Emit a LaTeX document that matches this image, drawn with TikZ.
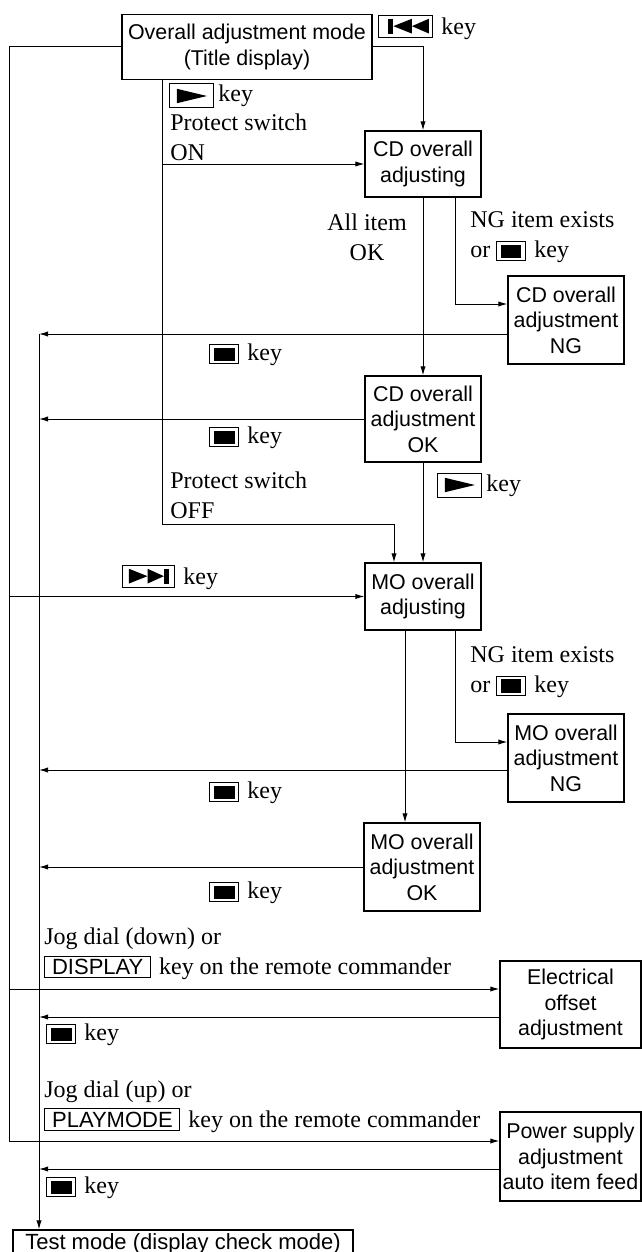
\documentclass[tikz,border=0pt]{standalone}
\usepackage{fontspec}
\setmainfont{Liberation Serif}
\setsansfont{Liberation Sans}
\usetikzlibrary{calc,arrows.meta}

\tikzset{
  box/.style={draw, line width=0.6pt, align=center, inner sep=1pt,
    font=\sffamily\fontsize{10.7}{12.8}\selectfont},
  arr/.style={line width=0.5pt, -{Latex[length=4.5pt,width=2.6pt]}},
  lbl/.style={inner sep=0pt, anchor=west, align=left,
    font=\fontsize{12}{15}\selectfont},
}

% key buttons
\newcommand{\prevkey}{\tikz[x=1pt,y=1pt,baseline=1.5pt]{\draw[line width=0.5pt] (0,0) rectangle (27,11);
  \fill (4.5,1.8) rectangle (7.2,9.2); \fill (7.2,5.5) -- (16.5,9.2) -- (16.5,1.8) -- cycle;
  \fill (16.5,5.5) -- (25,9.2) -- (25,1.8) -- cycle;}}
\newcommand{\nextkey}{\tikz[x=1pt,y=1pt,baseline=1.5pt]{\draw[line width=0.5pt] (0,0) rectangle (26,11);
  \fill (3,1.8) -- (3,9.2) -- (12.3,5.5) -- cycle; \fill (12.3,1.8) -- (12.3,9.2) -- (20.5,5.5) -- cycle;
  \fill (20.5,1.8) rectangle (23,9.2);}}
\newcommand{\playkey}{\tikz[x=1pt,y=1pt,baseline=3pt]{\draw[line width=0.5pt] (0,0) rectangle (22,12);
  \fill (3.5,2.4) -- (3.5,9.6) -- (18.5,6) -- cycle;}}
\newcommand{\stopkey}{\tikz[x=1pt,y=1pt,baseline=1.5pt]{\draw[line width=0.5pt] (0,0) rectangle (14.5,9.5);
  \fill (2.2,1.4) rectangle (12.3,8.1);}}
\newcommand{\txtkey}[1]{\tikz[baseline=(tk.base)]\node[draw,line width=0.5pt,inner xsep=3.6pt,inner ysep=1.5pt,
  font=\sffamily\fontsize{11}{13}\selectfont] (tk) {#1};}

\begin{document}
\begin{tikzpicture}[x=0.5pt,y=-0.5pt]
    \useasboundingbox (0,0) rectangle (642,1252);
    % boxes
    \node[box, minimum width=125pt, minimum height=32.5pt] (title) at (247,47) {Overall adjustment mode\\(Title display)};
    \node[box, minimum width=58pt, minimum height=33pt] (cdadj) at (423,164) {CD overall\\adjusting};
    \node[box, minimum width=58pt, minimum height=44pt] (cdng) at (566,320) {CD overall\\adjustment\\NG};
    \node[box, minimum width=58pt, minimum height=43pt] (cdok) at (423,419) {CD overall\\adjustment\\OK};
    \node[box, minimum width=58pt, minimum height=33.5pt] (moadj) at (423,596.5) {MO overall\\adjusting};
    \node[box, minimum width=58pt, minimum height=44pt] (mong) at (566,758) {MO overall\\adjustment\\NG};
    \node[box, minimum width=58pt, minimum height=44pt] (mook) at (422,867) {MO overall\\adjustment\\OK};
    \node[box, minimum width=70.5pt, minimum height=43.5pt] (elec) at (570.5,1004.5) {Electrical\\offset\\adjustment};
    \node[box, minimum width=70.5pt, minimum height=44.5pt] (power) at (570.5,1156.5) {Power supply\\adjustment\\auto item feed};
    \node[box, minimum width=170pt, minimum height=13.5pt, font=\sffamily\fontsize{11}{13}\selectfont] (test) at (183,1243.5) {Test mode (display check mode)};
    % rails and branch points
    \coordinate (outer) at (9,0);
    \coordinate (inner) at (39,0);
    \coordinate (onsw) at (162,0);
    \coordinate (offturn) at (162,524);
    \coordinate (offin) at ($(moadj.north)+(-29,0)$);
    \coordinate (cdngsplit) at ($(cdadj.south)+(32,0)$);
    \coordinate (cdngin) at ($(cdng.west)+(0,-16)$);
    \coordinate (cdngout) at ($(cdng.west)+(0,14)$);
    \coordinate (mooksplit) at ($(moadj.south)+(-18,0)$);
    \coordinate (mongsplit) at ($(moadj.south)+(32,0)$);
    \coordinate (mongin) at ($(mong.west)+(0,-16)$);
    \coordinate (mongout) at ($(mong.west)+(0,12)$);
    \coordinate (elecin) at ($(elec.west)+(0,-15.5)$);
    \coordinate (elecout) at ($(elec.west)+(0,12.5)$);
    \coordinate (powin) at ($(power.west)+(0,-15.5)$);
    \coordinate (powout) at ($(power.west)+(0,12.5)$);
    % connectors
    \draw[arr] (title.west) -| (outer |- powin) -- (powin);
    \draw[arr] (outer |- moadj.west) -- (moadj.west);
    \draw[arr] (outer |- elecin) -- (elecin);
    \draw[arr] (title.east) -| (cdadj.north);
    \draw[arr] (onsw |- title.south) |- (cdadj.west);
    \draw[arr] (onsw |- cdadj.west) -- (offturn) -| (offin);
    \draw[arr] (cdadj.south) -- (cdok.north);
    \draw[arr] (cdngsplit) |- (cdngin);
    \draw[arr] (cdngout) -- (inner |- cdngout);
    \draw[arr] (inner |- cdngout) -- (inner |- test.north);
    \draw[arr] (cdok.west) -- (inner |- cdok.west);
    \draw[arr] (cdok.south) -- (moadj.north);
    \draw[arr] (mooksplit) -- (mooksplit |- mook.north);
    \draw[arr] (mongsplit) |- (mongin);
    \draw[arr] (mongout) -- (inner |- mongout);
    \draw[arr] (mook.west) -- (inner |- mook.west);
    \draw[arr] (elecout) -- (inner |- elecout);
    \draw[arr] (powout) -- (inner |- powout);
    % labels
    \node[lbl] (kprev) at (378,27) {\prevkey\hspace{4pt}key};
    \node[lbl] (kplayon) at (169,96) {\playkey\hspace{2pt}key};
    \node[lbl] (pson) at (170,137.5) {Protect switch\\ON};
    \node[lbl, align=center, anchor=center] (allok) at (367,237.5) {All item\\OK};
    \node[lbl] (cdngcond) at (470,237.5) {NG item exists\\or \stopkey\hspace{4pt}key};
    \node[lbl] (kstopa) at (209,355) {\stopkey\hspace{4pt}key};
    \node[lbl] (kstopb) at (209,438) {\stopkey\hspace{4pt}key};
    \node[lbl] (psoff) at (170,495) {Protect switch\\OFF};
    \node[lbl] (kplayok) at (437,485) {\playkey\hspace{2pt}key};
    \node[lbl] (knext) at (122,577) {\nextkey\hspace{4pt}key};
    \node[lbl] (mongcond) at (470,672) {NG item exists\\or \stopkey\hspace{4pt}key};
    \node[lbl] (kstopc) at (209,793) {\stopkey\hspace{4pt}key};
    \node[lbl] (kstopd) at (209,893) {\stopkey\hspace{4pt}key};
    \node[lbl] (jogdown) at (44,954) {Jog dial (down) or\\\txtkey{DISPLAY}\hspace{4pt}key on the remote commander};
    \node[lbl] (kstope) at (46,1035) {\stopkey\hspace{4pt}key};
    \node[lbl] (jogup) at (44,1106.5) {Jog dial (up) or\\\txtkey{PLAYMODE}\hspace{4pt}key on the remote commander};
    \node[lbl] (kstopf) at (46,1188) {\stopkey\hspace{4pt}key};
\end{tikzpicture}
\end{document}
